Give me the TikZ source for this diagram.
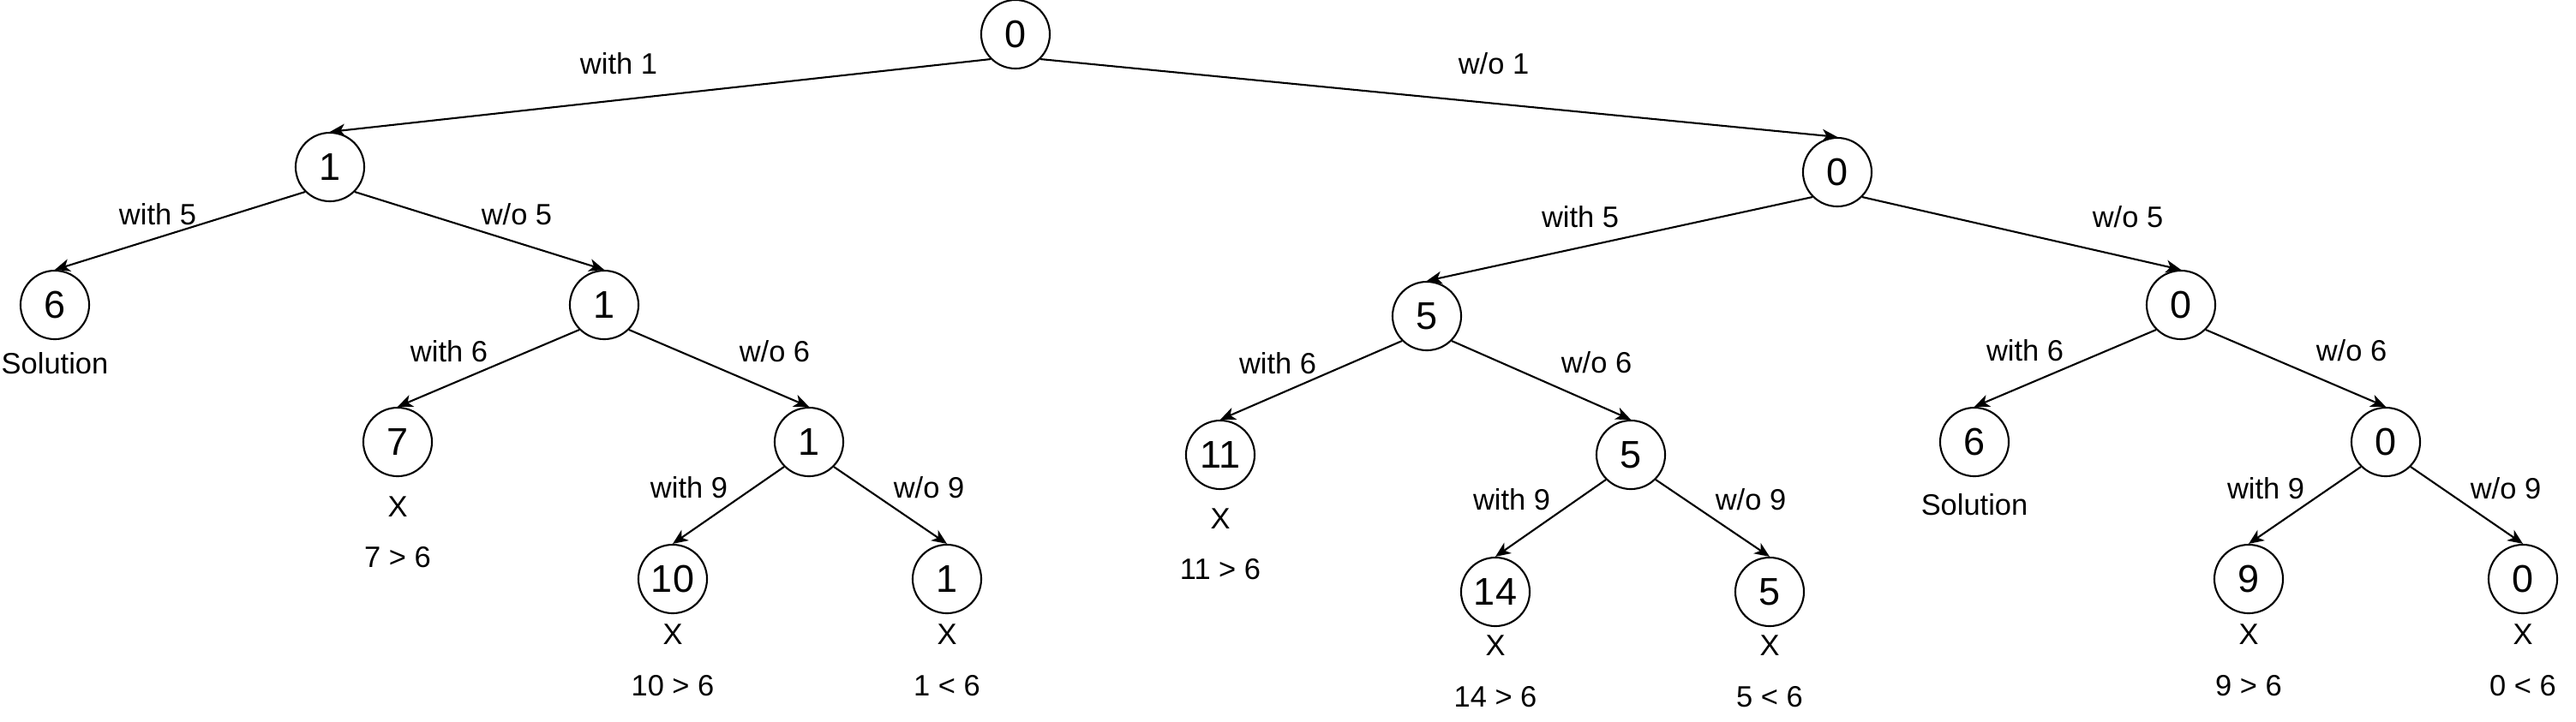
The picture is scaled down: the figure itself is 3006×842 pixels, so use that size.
\documentclass[tikz,border=0pt]{standalone}
\usepackage{fontspec}
\setmainfont{Liberation Sans}
\usetikzlibrary{arrows.meta}

\tikzset{
    st/.style={draw, circle, minimum size=0.8cm, inner sep=0pt, line width=0.6pt,
        font=\fontsize{12.8}{14}\selectfont},
    txt/.style={anchor=base, inner sep=0pt, font=\fontsize{9.8}{11}\selectfont},
}

\begin{document}
\begin{tikzpicture}[x=0.01cm, y=-0.01cm, line width=0.6pt,
    >={Stealth[length=5pt,width=4.2pt,inset=1.4pt]}]
    \useasboundingbox (0,0) rectangle (3006,842);

    % states
    \node[st] (root) at (1185,40) {0};
    \node[st] (a) at (385,195) {1};
    \node[st] (b) at (2144,201) {0};
    \node[st] (aa) at (64,356) {6};
    \node[st] (ab) at (705,356) {1};
    \node[st] (aba) at (464,516) {7};
    \node[st] (abb) at (944,516) {1};
    \node[st] (abba) at (785,676) {10};
    \node[st] (abbb) at (1105,676) {1};
    \node[st] (ba) at (1665,369) {5};
    \node[st] (bb) at (2545,356) {0};
    \node[st] (baa) at (1424,531) {11};
    \node[st] (bab) at (1903,531) {5};
    \node[st] (baba) at (1745,691) {14};
    \node[st] (babb) at (2065,691) {5};
    \node[st] (bba) at (2304,516) {6};
    \node[st] (bbb) at (2784,516) {0};
    \node[st] (bbba) at (2624,676) {9};
    \node[st] (bbbb) at (2944,676) {0};

    % branches
    \draw[->](root.south west)--(a.north);
    \draw[->](root.south east)--(b.north);
    \draw[->](a.south west)--(aa.north);
    \draw[->](a.south east)--(ab.north);
    \draw[->](ab.south west)--(aba.north);
    \draw[->](ab.south east)--(abb.north);
    \draw[->](abb.south west)--(abba.north);
    \draw[->](abb.south east)--(abbb.north);
    \draw[->](b.south west)--(ba.north);
    \draw[->](b.south east)--(bb.north);
    \draw[->](ba.south west)--(baa.north);
    \draw[->](ba.south east)--(bab.north);
    \draw[->](bab.south west)--(baba.north);
    \draw[->](bab.south east)--(babb.north);
    \draw[->](bb.south west)--(bba.north);
    \draw[->](bb.south east)--(bbb.north);
    \draw[->](bbb.south west)--(bbba.north);
    \draw[->](bbb.south east)--(bbbb.north);

    % branch labels
    \node[txt] (la) at (722,86) {with 1};
    \node[txt] (lb) at (1743,86) {w/o 1};
    \node[txt] (laa) at (184,262) {with 5};
    \node[txt] (lab) at (603,262) {w/o 5};
    \node[txt] (laba) at (524,422) {with 6};
    \node[txt] (labb) at (904,422) {w/o 6};
    \node[txt] (labba) at (804,581) {with 9};
    \node[txt] (labbb) at (1084,581) {w/o 9};
    \node[txt] (lba) at (1844,265) {with 5};
    \node[txt] (lbb) at (2483,265) {w/o 5};
    \node[txt] (lbaa) at (1491,436) {with 6};
    \node[txt] (lbab) at (1863,435) {w/o 6};
    \node[txt] (lbaba) at (1764,595) {with 9};
    \node[txt] (lbabb) at (2043,595) {w/o 9};
    \node[txt] (lbba) at (2363,421) {with 6};
    \node[txt] (lbbb) at (2744,421) {w/o 6};
    \node[txt] (lbbba) at (2644,582) {with 9};
    \node[txt] (lbbbb) at (2924,582) {w/o 9};

    % outcomes
    \node[txt] (oaa) at (64,436) {Solution};
    \node[txt] (xaba) at (464,603) {X};
    \node[txt] (caba) at (464,662) {7 > 6};
    \node[txt] (xabba) at (785,752) {X};
    \node[txt] (cabba) at (785,812) {10 > 6};
    \node[txt] (xabbb) at (1105,752) {X};
    \node[txt] (cabbb) at (1105,812) {1 < 6};
    \node[txt] (xbaa) at (1424,617) {X};
    \node[txt] (cbaa) at (1424,676) {11 > 6};
    \node[txt] (xbaba) at (1745,765) {X};
    \node[txt] (cbaba) at (1745,825) {14 > 6};
    \node[txt] (xbabb) at (2065,765) {X};
    \node[txt] (cbabb) at (2065,825) {5 < 6};
    \node[txt] (obba) at (2304,601) {Solution};
    \node[txt] (xbbba) at (2624,752) {X};
    \node[txt] (cbbba) at (2624,812) {9 > 6};
    \node[txt] (xbbbb) at (2944,752) {X};
    \node[txt] (cbbbb) at (2944,812) {0 < 6};
\end{tikzpicture}
\end{document}
